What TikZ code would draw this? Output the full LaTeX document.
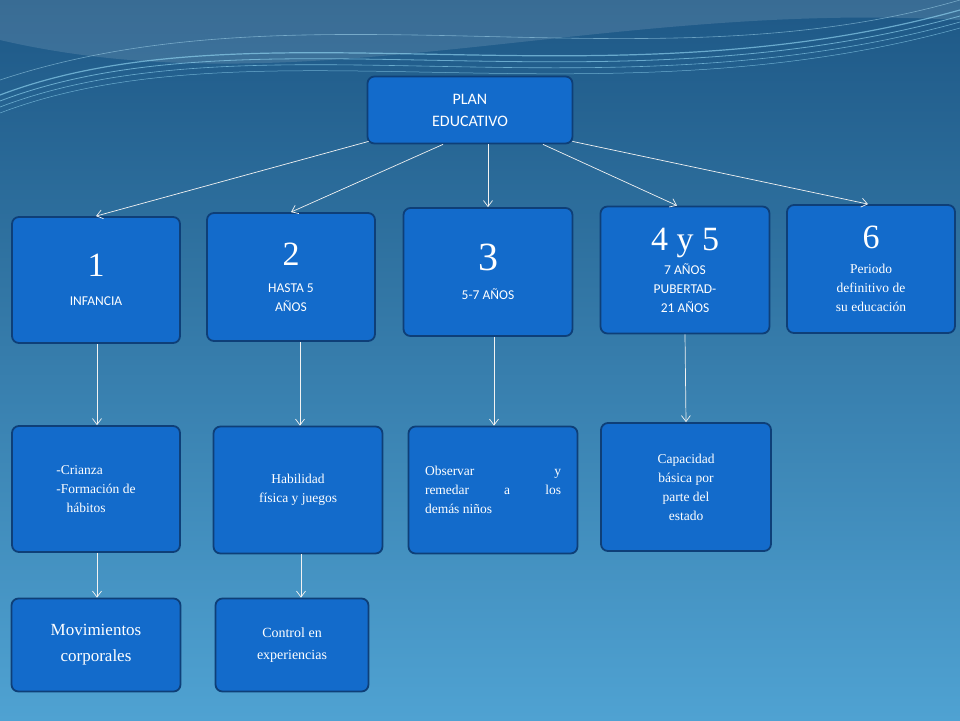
\documentclass[tikz,border=0pt]{standalone}
\usepackage{fontspec}
\setmainfont{Liberation Serif}
\newfontfamily\carl{Carlito}
\usetikzlibrary{arrows.meta}
\definecolor{bgtop}{HTML}{1E5886}
\definecolor{bgbot}{HTML}{4FA2D2}
\definecolor{boxf}{HTML}{136BCB}
\definecolor{boxd}{HTML}{0E3F78}
\newcommand\bignum{\fontsize{34}{34}\selectfont}
\tikzset{
 box/.style={draw=boxd,line width=1.8pt,fill=boxf,rounded corners=7pt,text=white,align=center,inner sep=2pt,font=\fontsize{13.5}{19}\selectfont},
 conn/.style={draw=white!90!gray,line width=0.7pt,-{Straight Barb[length=6pt,width=9pt]}}
}
\begin{document}
\begin{tikzpicture}[x=1pt,y=-1pt]
\shade[top color=bgtop,bottom color=bgbot] (0,0) rectangle (960,720);
\useasboundingbox (0,0) rectangle (960,720);
\fill[white,opacity=0.12] (0,0) -- (0,40) .. controls (300,110) and (600,0) .. (960,20) -- (960,0) -- cycle;
\foreach \o/\w in {0/1.2,6/0.8,12/0.6,18/0.5}{
 \draw[cyan!40!white,opacity=0.6,line width=\w pt] (0,{95+\o}) .. controls (250,{0+\o}) and (600,{110+\o}) .. (960,{10+\o});}
\draw[cyan!30!white,opacity=0.5,line width=0.6pt] (0,80) .. controls (300,-20) and (650,90) .. (960,0);

\node[box,minimum width=205,minimum height=67,font=\carl\fontsize{16}{22}\selectfont] (plan) at (470,110) {PLAN\\EDUCATIVO};
\node[box,minimum width=168,minimum height=126] (b1) at (96,280) {{\bignum 1}\\[10pt]\carl INFANCIA};
\node[box,minimum width=168,minimum height=128] (b2) at (291,277) {{\bignum 2}\\[8pt]\carl HASTA 5\\\carl AÑOS};
\node[box,minimum width=169,minimum height=128] (b3) at (488,272) {{\fontsize{40}{40}\selectfont 3}\\[10pt]\carl 5-7 AÑOS};
\node[box,minimum width=169,minimum height=127] (b4) at (685,270) {{\bignum 4 y 5}\\[5pt]\carl 7 AÑOS\\\carl PUBERTAD-\\\carl 21 AÑOS};
\node[box,minimum width=168,minimum height=128] (b6) at (871,269) {{\bignum 6}\\[6pt]Periodo\\definitivo de\\su educación};

\node[box,minimum width=168,minimum height=126,align=left] (c1) at (96,489) {-Crianza\\-Formación de\\\ \ \ hábitos};
\node[box,minimum width=169,minimum height=127] (c2) at (298,490) {Habilidad\\física y juegos};
\node[box,minimum width=169,minimum height=127,align=justify,text width=136] (c3) at (493,490) {Observar\hfill y\\remedar\hfill a\hfill los\\demás niños};
\node[box,minimum width=170,minimum height=128] (c4) at (686,487) {Capacidad\\básica por\\parte del\\estado};

\node[box,minimum width=169,minimum height=93,font=\fontsize{17}{26}\selectfont] (d1) at (96,645) {Movimientos\\corporales};
\node[box,minimum width=153,minimum height=93,font=\fontsize{14}{22}\selectfont] (d2) at (292,645) {Control en\\experiencias};

\draw[conn] (plan.south west) ++(2,-3) -- (b1.north);
\draw[conn] ([xshift=-27]plan.south) -- (b2.north);
\draw[conn] ([xshift=18]plan.south) -- ([xshift=0]b3.north);
\draw[conn] ([xshift=73]plan.south) -- ([xshift=-8]b4.north);
\draw[conn] (plan.south east) ++(-1,-3) -- ([xshift=-3]b6.north);
\draw[conn] ([xshift=1]b1.south) -- ([xshift=1]c1.north);
\draw[conn] ([xshift=9]b2.south) -- ([xshift=2]c2.north);
\draw[conn] ([xshift=6]b3.south) -- ([xshift=1]c3.north);
\draw[conn] (b4.south) -- (c4.north);
\draw[conn] ([xshift=1]c1.south) -- ([xshift=1]d1.north);
\draw[conn] ([xshift=3]c2.south) -- ([xshift=9]d2.north);
\end{tikzpicture}
\end{document}
